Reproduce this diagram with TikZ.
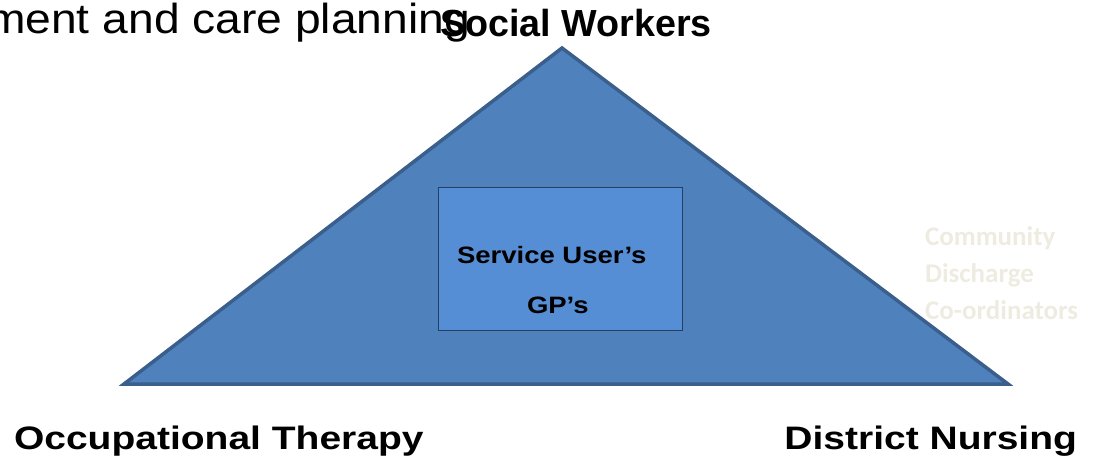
\documentclass[tikz,border=0pt]{standalone}
\usepackage{fontspec}
\setmainfont{Liberation Sans}
\newfontfamily\carl{Carlito}
\definecolor{trifill}{HTML}{4F81BD}
\definecolor{triline}{HTML}{3A5F8C}
\definecolor{boxfill}{HTML}{558ED5}
\definecolor{boxline}{HTML}{243F60}
\definecolor{pale}{HTML}{EEECE1}
\begin{document}
\begin{tikzpicture}[x=1pt,y=-1pt,
  lbl/.style={inner sep=0pt, outer sep=0pt},
  big/.style={lbl, font=\fontsize{32.5}{39}\selectfont\bfseries, xscale=1.2},
  mid/.style={lbl, font=\fontsize{23.7}{28}\selectfont\bfseries, xscale=1.16},
  faint/.style={lbl, font=\carl\bfseries\fontsize{27}{32}\selectfont, text=pale, xscale=1.0}]
\useasboundingbox (0,0) rectangle (1118,455);
\clip (0,0) rectangle (1118,455);
\coordinate (apex) at (562,48);
\coordinate (bl) at (124,384);
\coordinate (br) at (1008,384);
\draw[fill=trifill, draw=triline, line width=3.5pt, line join=miter] (apex) -- (br) -- (bl) -- cycle;
\node[draw=boxline, fill=boxfill, line width=1pt, minimum width=244pt, minimum height=143pt, inner sep=0pt, anchor=north west] (box) at (438,187) {};
\node[mid, anchor=base west] (su) at (457,263) {Service User’s};
\node[mid, anchor=base west] (gp) at (527,313) {GP’s};
\node[lbl, anchor=base east, xscale=1.1, font=\fontsize{42}{50}\selectfont] (plan) at (470,33) {ment and care planning};
\node[lbl, anchor=base west, font=\fontsize{37.7}{45}\selectfont\bfseries] (sw) at (440,36) {Social Workers};
\node[big, anchor=base west] (ot) at (14,449) {Occupational Therapy};
\node[big, anchor=base east] (dn) at (1077,449) {District Nursing};
\node[faint, anchor=base west] (c1) at (925,245) {Community};
\node[faint, anchor=base west] (c2) at (925,282) {Discharge};
\node[faint, anchor=base west] (c3) at (925,319) {Co-ordinators};
\end{tikzpicture}
\end{document}
